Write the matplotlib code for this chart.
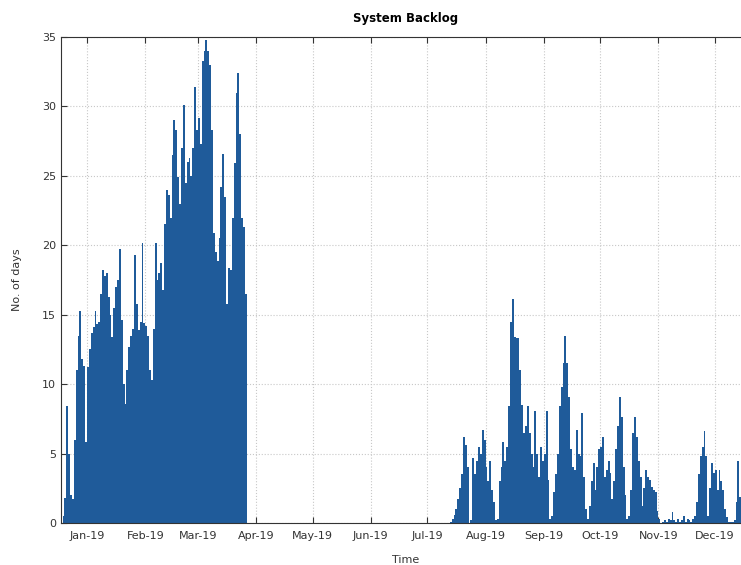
import numpy as np
import pandas as pd
import matplotlib
matplotlib.use("Agg")
import matplotlib.pyplot as plt
import matplotlib.dates as mdates

# ======================================
# Backlog data (days), daily values
# ======================================

# winter / spring run
start_1 = "2018-12-19"
backlog_1 = [
    0.5, 1.8, 8.4, 5.0, 2.0, 1.7, 6.0, 11.0, 13.5, 15.3,
    11.8, 11.3, 5.8, 11.2, 12.5, 13.7, 14.1, 15.3, 14.3, 14.5,
    16.5, 18.2, 17.8, 18.0, 16.3, 15.0, 13.4, 15.5, 17.0, 17.5,
    19.7, 14.6, 10.0, 8.6, 11.0, 12.7, 13.5, 14.0, 19.3, 15.8,
    13.9, 14.5, 20.2, 14.4, 14.2, 13.5, 11.0, 10.3, 14.0, 20.2,
    17.5, 18.0, 18.7, 16.8, 21.5, 24.0, 23.6, 22.0, 26.5, 29.0,
    28.3, 24.9, 23.0, 27.0, 30.1, 24.5, 26.0, 26.3, 25.0, 27.0,
    31.4, 28.3, 29.2, 27.3, 33.3, 34.0, 34.8, 34.0, 33.0, 28.3,
    20.9, 19.5, 18.9, 20.5, 24.2, 26.6, 23.5, 15.8, 18.4, 18.2,
    22.0, 25.9, 31.0, 32.4, 28.0, 22.0, 21.3, 16.5,
]

# summer / autumn run
start_2 = "2019-07-13"
backlog_2 = [
    0.1, 0.3, 0.6, 1.0, 1.7, 2.5, 3.5, 6.2, 5.6, 4.0,
    0.0, 0.2, 4.7, 3.5, 4.5, 5.5, 5.0, 6.7, 6.0, 4.0,
    3.0, 4.5, 2.4, 1.5, 0.2, 0.3, 3.0, 4.0, 5.8, 4.5,
    5.5, 8.4, 14.5, 16.1, 13.4, 13.3, 13.3, 11.0, 8.5, 6.5,
    7.0, 8.4, 6.5, 5.0, 4.0, 8.1, 5.0, 3.3, 5.5, 4.5,
    5.0, 8.1, 3.1, 0.3, 0.5, 2.2, 3.5, 5.0, 8.4, 9.8,
    11.5, 13.5, 11.5, 9.1, 5.3, 4.0, 3.8, 6.7, 5.0, 4.8,
    7.9, 3.3, 1.0, 0.3, 1.2, 3.0, 4.3, 2.4, 4.0, 5.3,
    5.5, 6.2, 3.3, 3.8, 4.5, 3.6, 1.7, 3.0, 5.3, 7.0,
    9.1, 7.6, 4.0, 2.0, 0.3, 0.5, 2.4, 6.5, 7.6, 6.2,
    4.5, 3.3, 1.2, 2.5, 3.8, 3.3, 3.1, 2.6, 2.4, 2.2,
    0.9, 0.3, 0.0, 0.1, 0.2, 0.1, 0.3, 0.2, 0.8, 0.2,
    0.1, 0.3, 0.1, 0.2, 0.5, 0.1, 0.3, 0.2, 0.1, 0.3,
    0.5, 1.5, 3.5, 4.8, 5.5, 6.6, 4.8, 0.5, 2.5, 4.3,
    3.6, 3.8, 2.4, 3.8, 3.0, 2.4, 1.0, 0.4, 0.1, 0.1,
    0.1, 0.2, 1.5, 4.5, 1.9, 3.0,
]

month_ticks = pd.date_range("2019-01-01", "2019-12-01", freq="MS")
y_ticks = [0, 5, 10, 15, 20, 25, 30, 35]

dates_1 = pd.date_range(start_1, periods=len(backlog_1), freq="D")
dates_2 = pd.date_range(start_2, periods=len(backlog_2), freq="D")

# ======================================
# Plot
# ======================================

bar_color = "#1f5b9a"

fig = plt.figure(figsize=(7.41, 5.65), dpi=100)
ax = fig.add_axes([0.0819, 0.0743, 0.931, 0.8602])

ax.bar(dates_1, backlog_1, width=1.0, align="edge", color=bar_color, linewidth=0)
ax.bar(dates_2, backlog_2, width=1.0, align="edge", color=bar_color, linewidth=0)

ax.set_xlim(pd.Timestamp("2018-12-18"), pd.Timestamp("2019-12-20"))
ax.set_ylim(0, 35)

ax.set_xticks(month_ticks)
ax.xaxis.set_major_formatter(mdates.DateFormatter("%b-%y"))
ax.set_yticks(y_ticks)

ax.tick_params(axis="both", direction="in", length=4, width=0.8,
               labelsize=8, labelcolor="#333333", color="#333333",
               top=True, right=False)
ax.tick_params(axis="x", pad=6)

ax.grid(True, linestyle=":", linewidth=0.8, color="#c8c8c8")
ax.set_axisbelow(True)

for side in ["left", "top", "bottom"]:
    ax.spines[side].set_color("#333333")
    ax.spines[side].set_linewidth(0.8)

ax.set_title("System Backlog", fontsize=8.5, fontweight="bold", pad=11)
ax.set_xlabel("Time", fontsize=8, color="#333333", labelpad=10)
ax.set_ylabel("No. of days", fontsize=8, color="#333333", labelpad=14)

fig.savefig("out.png", dpi=100)
